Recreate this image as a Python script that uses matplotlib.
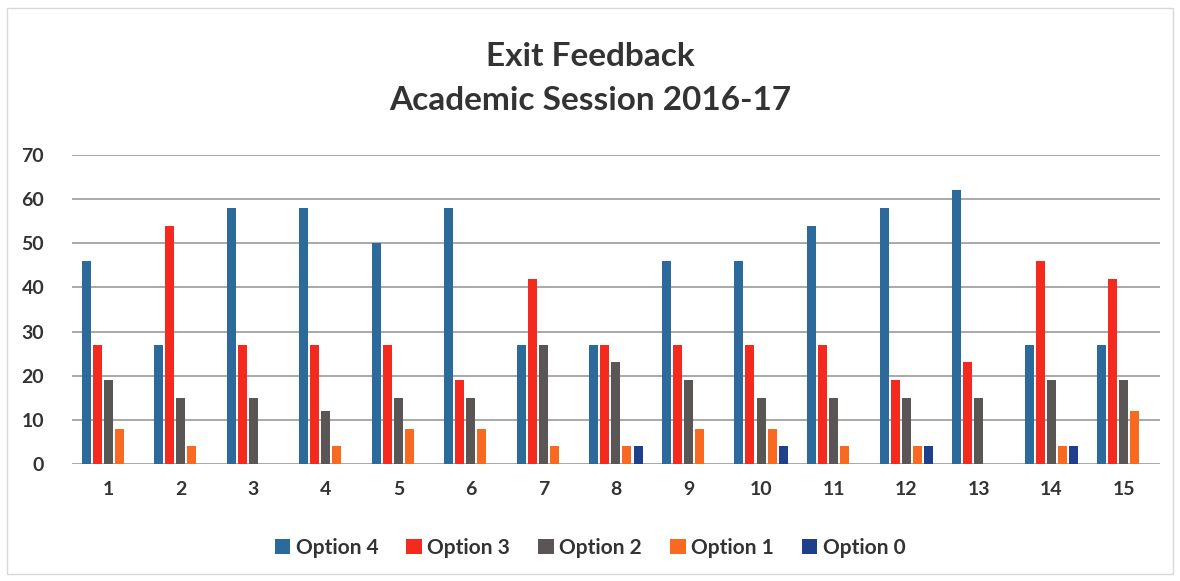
import matplotlib
matplotlib.use("Agg")
import matplotlib.pyplot as plt
import numpy as np
from matplotlib.patches import Rectangle

categories = [str(i) for i in range(1, 16)]
option4 = [46, 27, 58, 58, 50, 58, 27, 27, 46, 46, 54, 58, 62, 27, 27]
option3 = [27, 54, 27, 27, 27, 19, 42, 27, 27, 27, 27, 19, 23, 46, 42]
option2 = [19, 15, 15, 12, 15, 15, 27, 23, 19, 15, 15, 15, 15, 19, 19]
option1 = [8, 4, 0, 4, 8, 8, 4, 4, 8, 8, 4, 4, 0, 4, 12]
option0 = [0, 0, 0, 0, 0, 0, 0, 4, 0, 4, 0, 4, 0, 4, 0]

series_names = ["Option 4", "Option 3", "Option 2", "Option 1", "Option 0"]
series_vals = [option4, option3, option2, option1, option0]
colors = ["#2B6A9B", "#F52A1E", "#5B5656", "#F86A22", "#1E3F8C"]

plt.rcParams['font.family'] = ['Lato', 'DejaVu Sans']

fig = plt.figure(figsize=(11.8, 5.81), dpi=100)
ax = fig.add_axes([0.061, 0.2014, 0.922, 0.5318])

x = np.arange(1, len(categories) + 1)
step = 0.152
width = 0.124
for i, (name, vals, c) in enumerate(zip(series_names, series_vals, colors)):
    ax.bar(x + (i - 2) * step, vals, width=width, color=c, label=name, zorder=3)

ax.set_xlim(0.5, 15.5)
ax.set_ylim(0, 70)
ax.set_yticks(range(0, 71, 10))
ax.set_xticks(x)
ax.set_xticklabels(categories)
ax.grid(axis='y', color='#9a9a9a', linewidth=1.2, zorder=0)
for s in ax.spines.values():
    s.set_visible(False)
ax.tick_params(axis='both', length=0, labelsize=14, colors='#333333')
ax.tick_params(axis='y', pad=20)
ax.tick_params(axis='x', pad=12)
for lbl in ax.get_xticklabels() + ax.get_yticklabels():
    lbl.set_fontweight('bold')

fig.text(0.5, 0.903, "Exit Feedback", ha='center', va='center', fontsize=24,
         fontweight='bold', color='#333333')
fig.text(0.5, 0.827, "Academic Session 2016-17", ha='center', va='center', fontsize=24,
         fontweight='bold', color='#333333')

leg = fig.legend(loc='center', bbox_to_anchor=(0.5, 0.057), ncol=5, frameon=False,
                 handlelength=0.75, handleheight=0.75, handletextpad=0.25,
                 columnspacing=1.35, prop={'weight': 'bold', 'size': 15})
for t in leg.get_texts():
    t.set_color('#333333')

fig.patches.append(Rectangle((0.006, 0.012), 0.988, 0.975, transform=fig.transFigure,
                             fill=False, edgecolor='#d8d8d8', linewidth=1))

fig.savefig("out.png", dpi=100)
